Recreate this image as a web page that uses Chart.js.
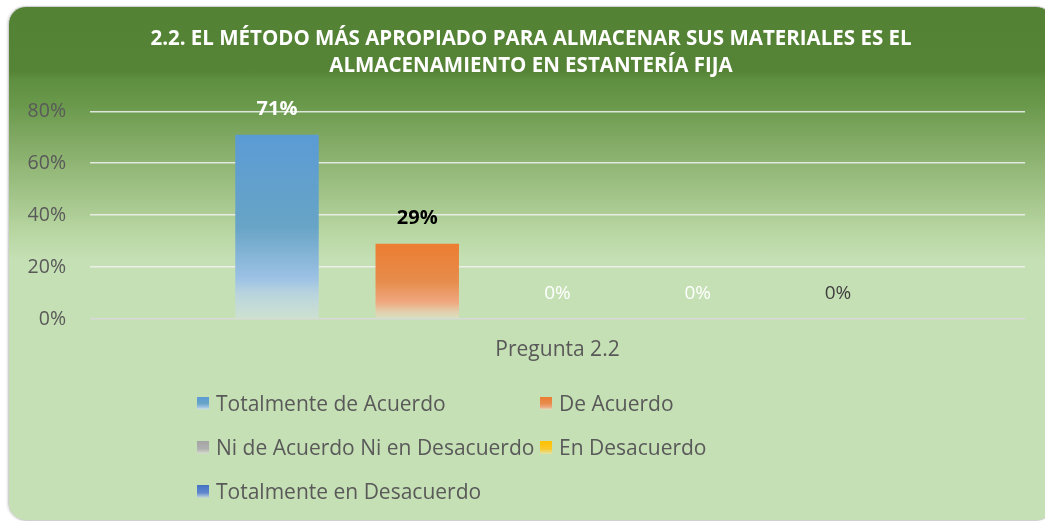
<!DOCTYPE html>
<html>
<head>
<meta charset="utf-8">
<script src="https://cdn.jsdelivr.net/npm/chart.js@4.4.1/dist/chart.umd.min.js"></script>
<style>
  html, body { margin: 0; padding: 0; background: #ffffff; }
  #wrap { position: relative; width: 1045px; height: 521px; overflow: hidden; }
  #panel {
    position: absolute; left: 8px; top: 6px; width: 1044px; height: 513px;
    border: 1px solid #d0d0d0; border-radius: 18px;
    box-shadow: -1px 0 2px rgba(0,0,0,0.12);
    background: linear-gradient(to bottom,
      #548235 0px, #568436 64px, #5e8e3f 72px, #6b9a4d 100px,
      #86ad69 140px, #a3c58a 190px, #b8d6a2 225px, #c5e0b4 252px, #c5e0b4 100%);
  }
  canvas { position: absolute; left: 0; top: 0; }
  #legend {
    position: absolute; left: 197px; top: 381px;
    display: grid; grid-template-columns: 343px auto; grid-auto-rows: 44px;
    font-family: "Open Sans", Lato, sans-serif; font-size: 21px; color: #595959;
  }
  .item { display: flex; align-items: center; white-space: nowrap; }
  .box { width: 12px; height: 13px; margin-right: 7px; }
</style>
</head>
<body>
<div id="wrap">
  <div id="panel"></div>
  <canvas id="c" width="1045" height="521"></canvas>
  <div id="legend"></div>
</div>
<script>
// ---- data ----
const categories = ["Pregunta 2.2"];
const seriesNames = ["Totalmente de Acuerdo", "De Acuerdo", "Ni de Acuerdo Ni en Desacuerdo", "En Desacuerdo", "Totalmente en Desacuerdo"];
const totalmenteDeAcuerdo = [71];
const deAcuerdo = [29];
const niDeAcuerdo = [0];
const enDesacuerdo = [0];
const totalmenteEnDesacuerdo = [0];
const yTicks = [0, 20, 40, 60, 80];
const titleLines = ["2.2. EL MÉTODO MÁS APROPIADO PARA ALMACENAR SUS MATERIALES ES EL", "ALMACENAMIENTO EN ESTANTERÍA FIJA"];

// ---- styles ----
const gradStops = [
  [[0, 'rgb(91,155,213)'], [0.5, 'rgb(104,164,198)'], [0.78, 'rgb(156,194,228)'], [0.86, 'rgb(184,211,222)'], [1, 'rgb(206,226,208)']],
  [[0, 'rgb(237,125,49)'], [0.5, 'rgb(230,140,76)'], [0.78, 'rgb(240,168,128)'], [0.9, 'rgb(226,206,170)'], [1, 'rgb(214,226,196)']],
  [[0, 'rgb(165,165,165)'], [0.6, 'rgb(175,175,175)'], [1, 'rgb(215,225,205)']],
  [[0, 'rgb(255,192,0)'], [0.6, 'rgb(250,200,40)'], [1, 'rgb(225,228,170)']],
  [[0, 'rgb(68,114,196)'], [0.6, 'rgb(95,135,205)'], [1, 'rgb(200,220,215)']]
];
const labelStyles = [
  { color: '#ffffff', weight: 'bold' },
  { color: '#000000', weight: 'bold' },
  { color: '#ffffff', weight: 'normal' },
  { color: '#ffffff', weight: 'normal' },
  { color: '#404040', weight: 'normal' }
];
const FONT = '"Open Sans", Lato, sans-serif';

function barGradient(idx) {
  return function (ctx) {
    const chart = ctx.chart;
    const y = chart.scales && chart.scales.y;
    if (!y || ctx.parsed === undefined) return gradStops[idx][0][1];
    const top = y.getPixelForValue(ctx.parsed.y);
    const base = y.getPixelForValue(0);
    if (!isFinite(top) || Math.abs(base - top) < 1) return gradStops[idx][0][1];
    const g = chart.ctx.createLinearGradient(0, top, 0, base);
    gradStops[idx].forEach(s => g.addColorStop(s[0], s[1]));
    return g;
  };
}

const seriesData = [totalmenteDeAcuerdo, deAcuerdo, niDeAcuerdo, enDesacuerdo, totalmenteEnDesacuerdo];

const labelPlugin = {
  id: 'valueLabels',
  afterDatasetsDraw(chart) {
    const c = chart.ctx;
    chart.data.datasets.forEach((ds, i) => {
      const meta = chart.getDatasetMeta(i);
      meta.data.forEach((el, j) => {
        const st = labelStyles[i];
        c.save();
        c.font = st.weight + ' ' + (st.weight === 'bold' ? 20 : 19) + 'px ' + FONT;
        c.fillStyle = st.color;
        c.textAlign = 'center';
        c.textBaseline = 'middle';
        c.fillText(ds.data[j] + '%', el.x, el.y - 25);
        c.restore();
      });
    });
  }
};

// centre the title over the panel rather than the canvas
const titleShift = {
  id: 'titleShift',
  afterLayout(chart) {
    const t = chart.titleBlock;
    if (t) { t.left = 37; t.width = t.right - t.left; }
  }
};

new Chart(document.getElementById('c'), {
  type: 'bar',
  data: {
    labels: categories,
    datasets: seriesNames.map((n, i) => ({
      label: n,
      data: seriesData[i],
      backgroundColor: barGradient(i),
      borderWidth: 0,
      categoryPercentage: 0.75,
      barPercentage: 0.595
    }))
  },
  options: {
    responsive: false,
    animation: false,
    layout: { padding: { left: 0, right: 20, top: 0, bottom: 142 } },
    plugins: {
      legend: { display: false },
      tooltip: { enabled: false },
      title: {
        display: true,
        text: titleLines,
        color: '#ffffff',
        font: { family: FONT, size: 20.5, weight: 'bold', lineHeight: 1.3 },
        padding: { top: 26, bottom: 32 }
      }
    },
    scales: {
      x: {
        grid: { display: false, drawTicks: false },
        border: { display: false },
        ticks: { color: '#595959', font: { family: FONT, size: 21 }, padding: 18 },
        afterFit(s) { s.height = 60; }
      },
      y: {
        min: 0, max: 80,
        afterBuildTicks(s) { s.ticks = yTicks.map(v => ({ value: v })); },
        grid: {
          drawTicks: false,
          lineWidth: 1.5,
          color: ctx => (ctx.tick && ctx.tick.value === 0) ? '#d9d9d9' : 'rgba(242,242,242,0.85)'
        },
        border: { display: false },
        ticks: { color: '#595959', font: { family: FONT, size: 19.5 }, padding: 24, callback: v => v + '%' },
        afterFit(s) { s.width = 90; }
      }
    }
  },
  plugins: [labelPlugin, titleShift]
});

// HTML legend
const legendEl = document.getElementById('legend');
seriesNames.forEach((n, i) => {
  const it = document.createElement('div');
  it.className = 'item';
  const b = document.createElement('span');
  b.className = 'box';
  b.style.background = 'linear-gradient(to bottom,' + gradStops[i].map(s => s[1] + ' ' + Math.round(s[0] * 100) + '%').join(',') + ')';
  const t = document.createElement('span');
  t.textContent = n;
  it.appendChild(b); it.appendChild(t);
  legendEl.appendChild(it);
});
</script>
</body>
</html>
